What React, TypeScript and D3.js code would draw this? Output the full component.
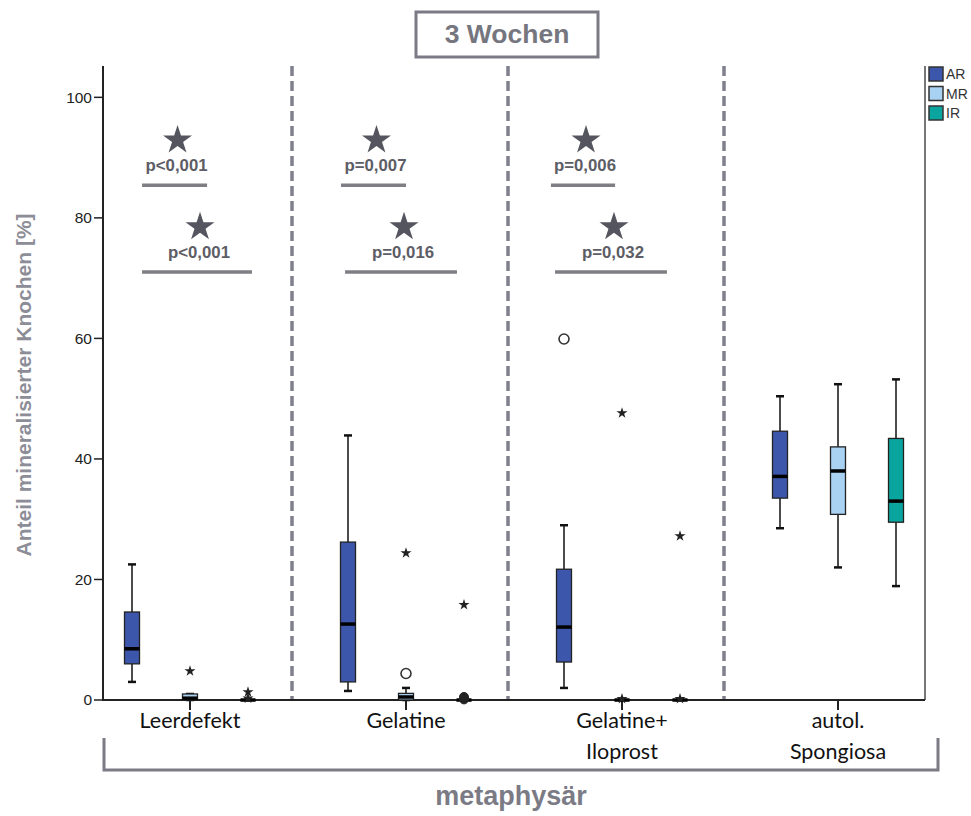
import React from "react";
import * as d3 from "d3";

const categories = ["Leerdefekt", "Gelatine", "Gelatine+|Iloprost", "autol.|Spongiosa"];
const seriesNames = ["AR", "MR", "IR"];
const seriesColors = ["#3c56ab", "#a9d1f1", "#0aa59f"];

// [min, q1, median, q3, max] per category
const statsAR = [
  [3.0, 6.0, 8.5, 14.6, 22.5],
  [1.5, 3.0, 12.6, 26.2, 43.9],
  [2.0, 6.3, 12.1, 21.7, 29.0],
  [28.5, 33.5, 37.1, 44.6, 50.4],
];
const statsMR = [
  [0, 0, 0.3, 1.0, 1.0],
  [0, 0, 0.5, 1.1, 2.0],
  [0, 0, 0, 0, 0],
  [22.0, 30.8, 38.0, 42.0, 52.4],
];
const statsIR = [
  [0, 0, 0, 0, 0],
  [0, 0, 0, 0, 0],
  [0, 0, 0, 0, 0],
  [18.9, 29.5, 33.0, 43.4, 53.2],
];
const allStats = [statsAR, statsMR, statsIR];

// outliers: category index, series index, value, kind
const outCat = [0, 0, 0, 1, 1, 1, 1, 1, 2, 2, 2, 2, 2];
const outSer = [1, 2, 2, 1, 1, 2, 2, 2, 0, 1, 1, 2, 2];
const outVal = [4.8, 1.3, 0.3, 4.4, 24.4, 15.8, 0.1, 0.5, 59.9, 47.6, 0.2, 27.2, 0.2];
const outKind = ["star", "star", "star", "circle", "star", "star", "dot", "dot", "circle", "star", "star", "star", "star"];

// significance annotations (x in category-index units, y in data units)
const sigLabels = ["p<0,001", "p<0,001", "p=0,007", "p=0,016", "p=0,006", "p=0,032"];
const sigFrom = [-0.222, -0.222, 0.699, 0.718, 1.671, 1.69];
const sigTo = [0.079, 0.287, 1.0, 1.236, 1.968, 2.208];
const sigLineY = [85.4, 71.0, 85.4, 71.0, 85.4, 71.0];

const yTicks = [0, 20, 40, 60, 80, 100];

const W = 971;
const H = 816;
const left = 103;
const right = 925;
const top = 66;
const bottom = 700;

export default function App() {
  const y = d3.scaleLinear().domain([0, 105.2]).range([bottom, top]);
  const xCat = d3.scalePoint<string>().domain(categories).range([190, 838]);
  const xSub = d3.scalePoint<string>().domain(seriesNames).range([-58, 58]);
  const xIdx = d3.scaleLinear().domain([0, 3]).range([190, 838]);
  const boxW = 15;
  const capW = 8;
  const starSmall = d3.symbol().type(d3.symbolStar).size(38)();
  const starBig = d3.symbol().type(d3.symbolStar).size(260)();
  const sansB = "'Liberation Sans', Arial, sans-serif";
  const grey = "#7b7b86";

  const separators = categories.slice(0, -1).map((c, i) => {
    const a = xCat(c)!;
    const b = xCat(categories[i + 1])!;
    return (a + b) / 2 - 6;
  });

  return (
    <svg width={W} height={H} style={{ position: "absolute", left: 0, top: 0, background: "#fff" }}>
      {/* Title box */}
      <rect x={416} y={12} width={182} height={45} fill="#fff" stroke={grey} strokeWidth={3} />
      <text x={507} y={43} textAnchor="middle" fontFamily={sansB} fontWeight="bold" fontSize={26.5} fill="#76767f">
        3 Wochen
      </text>

      {/* dashed separators */}
      {separators.map((sx, i) => (
        <line key={"sep" + i} x1={sx} x2={sx} y1={top} y2={bottom} stroke="#80808d" strokeWidth={3.5} strokeDasharray="10,5" />
      ))}

      {/* right border */}
      <line x1={right} x2={right} y1={top} y2={bottom} stroke="#777" strokeWidth={2} />

      {/* y axis */}
      <line x1={left} x2={left} y1={top} y2={bottom + 1} stroke="#222" strokeWidth={2} />
      {yTicks.map((t) => (
        <g key={"yt" + t}>
          <line x1={left - 9} x2={left} y1={y(t)} y2={y(t)} stroke="#222" strokeWidth={1.5} />
          <text x={left - 11} y={y(t)} dy="0.35em" textAnchor="end" fontFamily={sansB} fontSize={15.5} fill="#222">
            {t}
          </text>
        </g>
      ))}
      <text
        transform={`translate(31, 385) rotate(-90)`}
        textAnchor="middle"
        fontFamily={sansB}
        fontWeight="bold"
        fontSize={21}
        fill="#8d8d97"
      >
        Anteil mineralisierter Knochen [%]
      </text>

      {/* x axis */}
      <line x1={left} x2={right} y1={bottom} y2={bottom} stroke="#222" strokeWidth={2} />
      {categories.map((c) => (
        <g key={"xt" + c}>
          <line x1={xCat(c)} x2={xCat(c)} y1={bottom} y2={bottom + 10} stroke="#222" strokeWidth={2} />
          {c.split("|").map((ln, j) => (
            <text
              key={j}
              x={xCat(c)}
              y={bottom + 28 + j * 31}
              textAnchor="middle"
              fontFamily="Lato, 'Open Sans', sans-serif"
              fontSize={21.5}
              fill="#111"
            >
              {ln}
            </text>
          ))}
        </g>
      ))}

      {/* bracket */}
      <path d={`M104,738 V770 H938 V738`} fill="none" stroke={grey} strokeWidth={3} />
      <text x={511} y={805} textAnchor="middle" fontFamily={sansB} fontWeight="bold" fontSize={27} fill="#7b7b86">
        metaphysär
      </text>

      {/* boxes */}
      {allStats.map((stats, si) =>
        stats.map((s, ci) => {
          const cx = xCat(categories[ci])! + xSub(seriesNames[si])!;
          const [mn, q1, md, q3, mx] = s;
          return (
            <g key={`b${si}-${ci}`}>
              <line x1={cx} x2={cx} y1={y(mx)} y2={y(q3)} stroke="#111" strokeWidth={1.5} />
              <line x1={cx} x2={cx} y1={y(q1)} y2={y(mn)} stroke="#111" strokeWidth={1.5} />
              <line x1={cx - capW / 2} x2={cx + capW / 2} y1={y(mx)} y2={y(mx)} stroke="#111" strokeWidth={2.5} />
              <line x1={cx - capW / 2} x2={cx + capW / 2} y1={y(mn)} y2={y(mn)} stroke="#111" strokeWidth={2.5} />
              <rect
                x={cx - boxW / 2}
                y={y(q3)}
                width={boxW}
                height={Math.max(y(q1) - y(q3), 0.5)}
                fill={seriesColors[si]}
                stroke="#222"
                strokeWidth={1.3}
              />
              <line x1={cx - boxW / 2} x2={cx + boxW / 2} y1={y(md)} y2={y(md)} stroke="#000" strokeWidth={3.5} />
            </g>
          );
        })
      )}

      {/* outliers */}
      {outVal.map((v, i) => {
        const cx = xCat(categories[outCat[i]])! + xSub(seriesNames[outSer[i]])!;
        const cy = y(v);
        if (outKind[i] === "circle")
          return <circle key={"o" + i} cx={cx} cy={cy} r={5} fill="#fff" stroke="#333" strokeWidth={1.6} />;
        if (outKind[i] === "dot")
          return <circle key={"o" + i} cx={cx} cy={cy} r={4.5} fill="#222" stroke="#222" strokeWidth={1} />;
        return <path key={"o" + i} d={starSmall!} transform={`translate(${cx},${cy})`} fill="#222" />;
      })}

      {/* significance */}
      {sigLabels.map((lab, i) => {
        const x1 = xIdx(sigFrom[i]);
        const x2 = xIdx(sigTo[i]);
        const mid = (x1 + x2) / 2 + 2;
        return (
          <g key={"sig" + i}>
            <line x1={x1} x2={x2} y1={y(sigLineY[i])} y2={y(sigLineY[i])} stroke="#7e7e84" strokeWidth={3.5} />
            <text
              x={mid}
              y={y(sigLineY[i] + 3.3)}
              dy="0.35em"
              textAnchor="middle"
              fontFamily={sansB}
              fontWeight="bold"
              fontSize={16.8}
              fill="#5d5d66"
            >
              {lab}
            </text>
            <path d={starBig!} transform={`translate(${mid + 1},${y(sigLineY[i] + 7.5)})`} fill="#55555f" />
          </g>
        );
      })}

      {/* legend */}
      {seriesNames.map((s, i) => (
        <g key={"lg" + s}>
          <rect x={929} y={67 + i * 19.5} width={14} height={14} fill={seriesColors[i]} stroke="#333" strokeWidth={1.5} />
          <text x={946} y={79 + i * 19.5} fontFamily={sansB} fontSize={14} fill="#333">
            {s}
          </text>
        </g>
      ))}
    </svg>
  );
}
